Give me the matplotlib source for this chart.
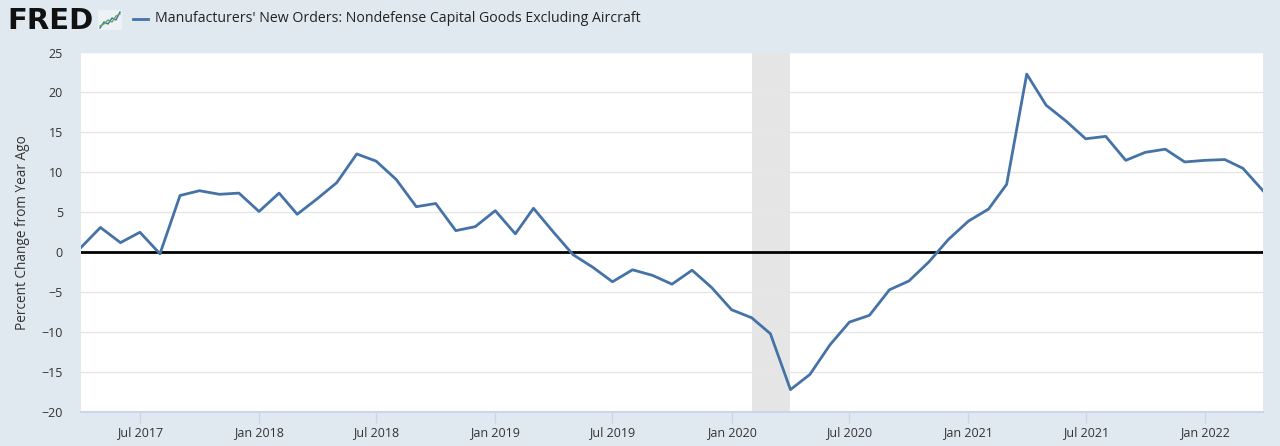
import numpy as np
import pandas as pd
import matplotlib
matplotlib.use('Agg')
import matplotlib.pyplot as plt
import matplotlib.dates as mdates

plt.rcParams['font.family'] = ['Open Sans', 'DejaVu Sans']

# monthly, Apr 2017 .. Apr 2022
start = '2017-04-01'
pct_change = [
    0.6, 3.1, 1.2, 2.5, -0.2, 7.1, 7.7, 7.25, 7.4,                 # 2017
    5.1, 7.4, 4.75, 6.7, 8.7, 12.3, 11.4, 9.1, 5.7, 6.1, 2.7, 3.2,  # 2018
    5.2, 2.3, 5.5, 2.5, -0.3, -1.9, -3.7, -2.2, -2.9, -4.0, -2.25, -4.4,  # 2019
    -7.2, -8.2, -10.2, -17.2, -15.3, -11.6, -8.75, -7.9, -4.7, -3.6, -1.2, 1.6,  # 2020
    3.9, 5.4, 8.5, 22.3, 18.4, 16.4, 14.2, 14.5, 11.5, 12.5, 12.9, 11.3,  # 2021
    11.5, 11.6, 10.5, 7.7,                                           # 2022
]
dates = pd.date_range(start, periods=len(pct_change), freq='MS')
recession = ('2020-02-01', '2020-04-01')
yticks = [-20, -15, -10, -5, 0, 5, 10, 15, 20, 25]
title = "Manufacturers' New Orders: Nondefense Capital Goods Excluding Aircraft"
ylabel = 'Percent Change from Year Ago'

bg = '#e1e9f0'
line_c = '#4572a7'
axis_c = '#ccd6eb'
text_c = '#333333'

fig = plt.figure(figsize=(12.8, 4.46), dpi=100, facecolor=bg)
ax = fig.add_axes([81/1280, 34/446, (1263-81)/1280, (412-52.5)/446])
ax.set_facecolor('white')

ax.axvspan(pd.Timestamp(recession[0]), pd.Timestamp(recession[1]), color='#e5e5e5', lw=0, zorder=0.5)
ax.axhline(0, color='black', lw=2, zorder=2)
ax.plot(dates, pct_change, color=line_c, lw=2, zorder=3)

ax.set_xlim(dates[0], dates[-1])
ax.set_ylim(-20, 25)
ax.set_yticks(yticks)
ax.grid(axis='y', color='#e6e6e6', lw=1, zorder=0)
ax.set_axisbelow(True)

ax.xaxis.set_major_locator(mdates.MonthLocator(bymonth=[1, 7]))
ax.xaxis.set_major_formatter(mdates.DateFormatter('%b %Y'))
ax.tick_params(axis='x', length=8, width=1, color=axis_c, labelsize=9, labelcolor=text_c, pad=2)
ax.tick_params(axis='y', length=0, labelsize=9, labelcolor=text_c, pad=13)

for s in ['top', 'right', 'left']:
    ax.spines[s].set_visible(False)
ax.spines['bottom'].set_color(axis_c)
ax.spines['bottom'].set_linewidth(1.5)

ax.set_ylabel(ylabel, fontsize=9.8, color=text_c, labelpad=8)

# header
fig.text(7/1280, 1 - 21/446, 'FRED', fontsize=21, fontweight='heavy', color='#111111',
         va='center', ha='left', family='DejaVu Sans')
icon_a = [0.1, 0.4, 0.3, 0.6, 0.5, 0.9]
icon_b = [0.2, 0.3, 0.5, 0.4, 0.7, 0.8]
iax = fig.add_axes([98/1280, 1 - 30/446, 24/1280, 20/446])
iax.plot(icon_a, color='#3d6fb0', lw=1)
iax.plot(icon_b, color='#6aa84f', lw=1)
iax.set_xlim(-0.5, 5.5)
iax.set_ylim(0, 1)
iax.set_facecolor('#eef2f5')
iax.set_xticks([])
iax.set_yticks([])
for s in iax.spines.values():
    s.set_visible(False)

fig.lines.append(plt.Line2D([133/1280, 148/1280], [1 - 19/446, 1 - 19/446],
                            transform=fig.transFigure, color=line_c, lw=2))
fig.text(155/1280, 1 - 19/446, title, fontsize=10.2, color='#222222', va='center', ha='left')

fig.savefig('out.png', dpi=100, facecolor=bg)
